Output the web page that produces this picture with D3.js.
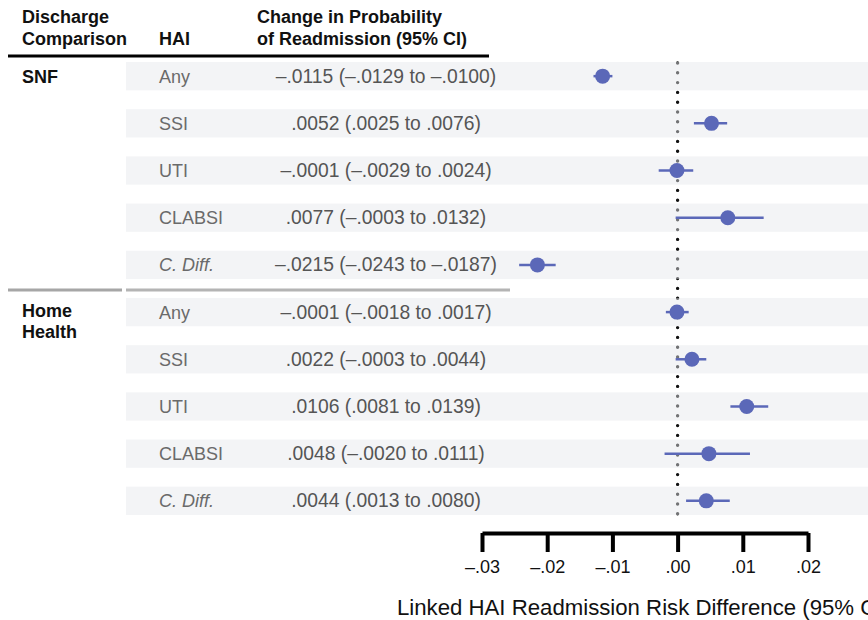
<!DOCTYPE html>
<html>
<head>
<meta charset="utf-8">
<script src="https://cdn.jsdelivr.net/npm/d3@7"></script>
<style>
  body { margin: 0; background: #fff; }
  text { font-family: "Liberation Sans", Arial, sans-serif; }
</style>
</head>
<body>
<svg id="mainsvg" width="868" height="620"></svg>
<script>
// data
const groups = ['SNF', 'SNF', 'SNF', 'SNF', 'SNF', 'Home Health', 'Home Health', 'Home Health', 'Home Health', 'Home Health'];
const hai = ['Any', 'SSI', 'UTI', 'CLABSI', 'C. Diff.', 'Any', 'SSI', 'UTI', 'CLABSI', 'C. Diff.'];
const estimate = [-0.0115, 0.0052, -0.0001, 0.0077, -0.0215, -0.0001, 0.0022, 0.0106, 0.0048, 0.0044];
const lower = [-0.0129, 0.0025, -0.0029, -0.0003, -0.0243, -0.0018, -0.0003, 0.0081, -0.0020, 0.0013];
const upper = [-0.0100, 0.0076, 0.0024, 0.0132, -0.0187, 0.0017, 0.0044, 0.0139, 0.0111, 0.0080];
const ticks = [-0.03, -0.02, -0.01, 0, 0.01, 0.02];

const rows = hai.map((h, i) => ({ id: i, group: groups[i], hai: h, est: estimate[i], lo: lower[i], hi: upper[i] }));

const svg = d3.select('#mainsvg');
const width = +svg.attr('width');

const fmt = v => {
  const s = d3.format('.4f')(Math.abs(v)).replace(/^0/, '');
  return (v < 0 ? '\u2013' : '') + s;
};
const fmtTick = v => {
  const s = d3.format('.2f')(Math.abs(v)).replace(/^0/, '');
  return (v < 0 ? '\u2013' : '') + s;
};

const x = d3.scaleLinear().domain([-0.03, 0.02]).range([482, 808]);
const y = d3.scaleBand().domain(rows.map(d => d.id)).range([62, 515]).paddingInner(0.4).paddingOuter(0);
const mid = d => y(d.id) + y.bandwidth() / 2;

// zero reference line (drawn under the translucent bands)
svg.append('line')
  .attr('x1', x(0)).attr('x2', x(0))
  .attr('y1', y(0) + 1).attr('y2', y(9) + y.bandwidth())
  .attr('stroke', '#111')
  .attr('stroke-width', 3.4)
  .attr('stroke-linecap', 'round')
  .attr('stroke-dasharray', '0 9.8');

// row bands
svg.append('g').selectAll('rect').data(rows).join('rect')
  .attr('x', 126).attr('width', width - 126)
  .attr('y', d => y(d.id)).attr('height', y.bandwidth())
  .attr('fill', 'rgb(228,231,236)')
  .attr('fill-opacity', 0.46);

// header
const head = svg.append('g').attr('font-weight', 'bold').attr('font-size', 18).attr('fill', '#111');
head.append('text').attr('x', 22).attr('y', 23).text('Discharge');
head.append('text').attr('x', 22).attr('y', 45).text('Comparison');
head.append('text').attr('x', 159).attr('y', 45).text('HAI');
head.append('text').attr('x', 257).attr('y', 23).text('Change in Probability');
head.append('text').attr('x', 257).attr('y', 45).text('of Readmission (95% CI)');

svg.append('line').attr('x1', 8).attr('x2', 489).attr('y1', 56).attr('y2', 56)
  .attr('stroke', '#000').attr('stroke-width', 3);

// group separator
svg.append('line').attr('x1', 8).attr('x2', 122).attr('y1', 290).attr('y2', 290)
  .attr('stroke', '#a6a6a6').attr('stroke-width', 3);
svg.append('line').attr('x1', 126).attr('x2', 510).attr('y1', 290).attr('y2', 290)
  .attr('stroke', '#b4b4b4').attr('stroke-width', 3);

// group labels
svg.append('text').attr('x', 22).attr('y', mid(rows[0]) + 6.5)
  .attr('font-weight', 'bold').attr('font-size', 18).attr('fill', '#111').text('SNF');
const hh = svg.append('text').attr('x', 22).attr('y', mid(rows[5]) + 5)
  .attr('font-weight', 'bold').attr('font-size', 18).attr('fill', '#111');
hh.append('tspan').attr('x', 22).text('Home');
hh.append('tspan').attr('x', 22).attr('dy', 21).text('Health');

// HAI labels
svg.append('g').selectAll('text').data(rows).join('text')
  .attr('x', 159)
  .attr('y', d => mid(d) + 6.5)
  .attr('font-size', 18)
  .attr('fill', '#6a6a6a')
  .attr('font-style', d => d.hai === 'C. Diff.' ? 'italic' : null)
  .text(d => d.hai);

// CI text
svg.append('g').selectAll('text').data(rows).join('text')
  .attr('x', 386)
  .attr('y', d => mid(d) + 6.5)
  .attr('text-anchor', 'middle')
  .attr('font-size', 19.3)
  .attr('fill', '#555')
  .text(d => `${fmt(d.est)} (${fmt(d.lo)} to ${fmt(d.hi)})`);

// intervals and points
const col = '#5b68b8';
svg.append('g').selectAll('line').data(rows).join('line')
  .attr('x1', d => x(d.lo)).attr('x2', d => x(d.hi))
  .attr('y1', mid).attr('y2', mid)
  .attr('stroke', col).attr('stroke-width', 2.5);
svg.append('g').selectAll('circle').data(rows).join('circle')
  .attr('cx', d => x(d.est))
  .attr('cy', mid)
  .attr('r', 7.5)
  .attr('fill', col);

// x axis
const axis = svg.append('g')
  .attr('transform', 'translate(0,533)')
  .call(d3.axisBottom(x).tickValues(ticks).tickFormat(fmtTick).tickSize(19).tickSizeOuter(0).tickPadding(8));
axis.select('.domain').attr('stroke', '#000').attr('stroke-width', 4);
axis.selectAll('.tick line').attr('stroke', '#000').attr('stroke-width', 4);
axis.selectAll('.tick text').attr('font-size', 18).attr('fill', '#111')
  .attr('font-family', '"Liberation Sans", Arial, sans-serif');

svg.append('text').attr('x', 397).attr('y', 615)
  .attr('font-size', 22.2).attr('fill', '#111')
  .text('Linked HAI Readmission Risk Difference (95% CI)');
</script>
</body>
</html>
